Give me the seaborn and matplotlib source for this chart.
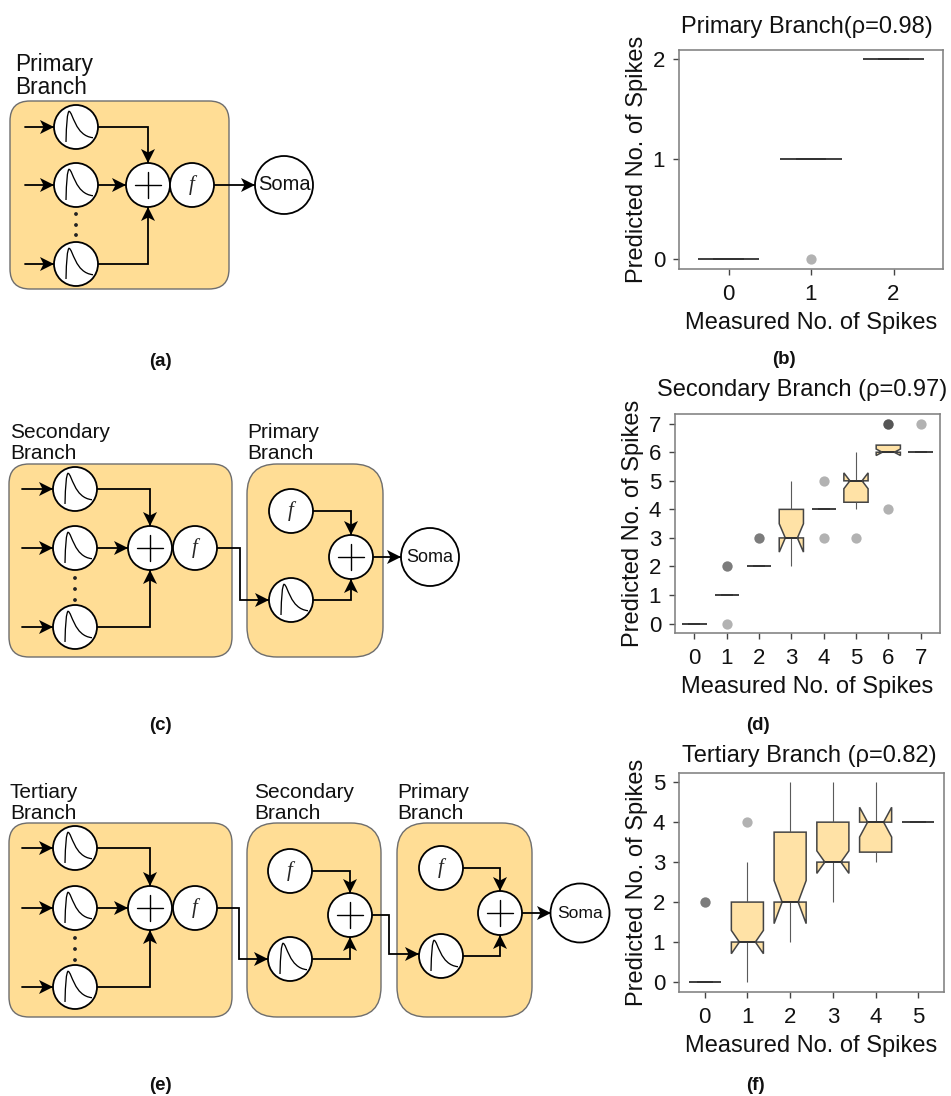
"""
Dendritic branch diagrams (left) with notched boxplots of predicted vs measured
spike counts (right).
"""

import matplotlib
matplotlib.use('Agg')

import matplotlib.pyplot as plt
import numpy as np
import pandas as pd
import seaborn as sns
from matplotlib.patches import Circle, FancyBboxPatch, PathPatch, Polygon
from matplotlib.path import Path

# rows: measured no. of spikes, columns: how many trials predicted 0, 1, 2, ...
PRIMARY_COUNTS = [
    [8, 0, 0],
    [1, 20, 0],
    [0, 0, 8],
]
SECONDARY_COUNTS = [
    [8, 0, 0, 0, 0, 0, 0, 0],
    [1, 30, 2, 0, 0, 0, 0, 0],
    [0, 0, 30, 2, 0, 0, 0, 0],
    [0, 0, 1, 5, 3, 1, 0, 0],
    [0, 0, 0, 1, 20, 1, 0, 0],
    [0, 0, 0, 1, 4, 12, 1, 0],
    [0, 0, 0, 0, 1, 0, 8, 3],
    [0, 0, 0, 0, 0, 0, 8, 1],
]
TERTIARY_COUNTS = [
    [30, 0, 2, 0, 0, 0],
    [1, 15, 11, 1, 1, 0],
    [0, 2, 12, 5, 5, 2],
    [0, 0, 1, 15, 14, 1],
    [0, 0, 0, 3, 6, 1],
    [0, 0, 0, 0, 8, 0],
]

PRIMARY_TITLE = 'Primary Branch(ρ=0.98)'
SECONDARY_TITLE = 'Secondary Branch (ρ=0.97)'
TERTIARY_TITLE = 'Tertiary Branch (ρ=0.82)'

BOX_FILL = '#FFE2A6'
PANEL_FILL = '#FFDD95'
W, H = 951, 1096
PX = 0.72  # one pixel in points at dpi 100

sns.set_style('ticks')
plt.rcParams['font.family'] = ['Liberation Sans', 'DejaVu Sans']


def counts_to_frame(counts):
    rows = []
    for measured, row in enumerate(counts):
        predicted = np.repeat(np.arange(len(row)), row)
        rows.append(pd.DataFrame({'measured': measured, 'predicted': predicted}))
    return pd.concat(rows, ignore_index=True)


def draw_boxes(fig, counts, rect, ylim, title, title_x, title_pad, ypos, ylabel_x):
    left, top, right, bottom = rect
    ax = fig.add_axes([left / W, 1 - bottom / H, (right - left) / W, (bottom - top) / H])
    df = counts_to_frame(counts)
    order = list(range(len(counts)))
    sns.boxplot(data=df, x='measured', y='predicted', order=order, notch=True,
                showcaps=False, width=0.75, color=BOX_FILL, saturation=1,
                linecolor='#5a5a5a', linewidth=0.8,
                boxprops={'linewidth': 1.1, 'edgecolor': '#444444'},
                medianprops={'color': '#333333', 'linewidth': 1.4},
                flierprops={'marker': 'o', 'markerfacecolor': 'black',
                            'markeredgecolor': 'none', 'alpha': 0.3, 'markersize': 7.4},
                ax=ax)
    ax.set_xlim(-0.6, len(counts) - 0.4)
    ax.set_ylim(*ylim)
    ax.set_yticks(ypos)
    for side in ax.spines:
        ax.spines[side].set_visible(True)
        ax.spines[side].set_color('#808080')
        ax.spines[side].set_linewidth(1.15)
    ax.tick_params(axis='both', labelsize=16, length=4, width=1, color='#444444',
                   labelcolor='#111111')
    ax.tick_params(axis='x', pad=7)
    ax.tick_params(axis='y', pad=6)
    ax.set_xlabel('Measured No. of Spikes', fontsize=17, labelpad=5, color='#111111')
    ax.set_ylabel('Predicted No. of Spikes', fontsize=17, color='#111111')
    ax.yaxis.set_label_coords((ylabel_x + 15 - left) / (right - left), 0.5)
    ax.set_title(title, fontsize=17, x=title_x, pad=title_pad, color='#111111')
    return ax


def arrow(ax, pts):
    """Polyline in pixel coordinates that ends in a filled notched head."""
    xs, ys = zip(*pts)
    (x0, y0), (x1, y1) = pts[-2], pts[-1]
    d = np.array([x1 - x0, y1 - y0], dtype=float)
    d /= np.hypot(*d)
    n = np.array([-d[1], d[0]])
    tip = np.array([x1, y1])
    ax.plot(xs, ys, color='black', lw=1.8 * PX, solid_joinstyle='miter', zorder=2)
    head = [tip, tip - 14 * d + 7 * n, tip - 10.5 * d, tip - 14 * d - 7 * n]
    ax.add_patch(Polygon(head, closed=True, fc='black', ec='none', zorder=4))


def circle(ax, x, y, r=22):
    ax.add_patch(Circle((x, y), r, fc='white', ec='black', lw=1.8 * PX, zorder=3))


def synapse(ax, x, y):
    circle(ax, x, y)
    verts = [(-10, 15), (-9.5, -14), (-7, -15.7), (-3, -15), (-1, 9), (17, 10.7)]
    codes = [Path.MOVETO, Path.CURVE3, Path.CURVE3, Path.CURVE4, Path.CURVE4, Path.CURVE4]
    path = Path([(x + a, y + b) for a, b in verts], codes)
    ax.add_patch(PathPatch(path, fc='none', ec='black', lw=1.3 * PX, zorder=5))


def adder(ax, x, y):
    circle(ax, x, y)
    ax.plot([x - 13, x + 13], [y, y], color='black', lw=1.4 * PX, zorder=5)
    ax.plot([x, x], [y - 13, y + 13], color='black', lw=1.4 * PX, zorder=5)


def nonlin(ax, x, y):
    circle(ax, x, y)
    ax.text(x, y, 'f', family='Liberation Serif', style='italic', fontsize=15,
            ha='center', va='center', zorder=5)


def soma(ax, x, y, r, size):
    ax.add_patch(Circle((x, y), r, fc='white', ec='black', lw=1.8 * PX, zorder=3))
    ax.text(x, y, 'Soma', fontsize=size, ha='center', va='center', zorder=5, color='#111111')


def panel(ax, x0, y0, x1, y1, rad):
    ax.add_patch(FancyBboxPatch((x0 + rad, y0 + rad), x1 - x0 - 2 * rad, y1 - y0 - 2 * rad,
                                boxstyle='round,pad={},rounding_size={}'.format(rad, rad),
                                fc=PANEL_FILL, ec='#6e6e6e', lw=1.4 * PX, zorder=1))


def label(ax, x, y, text, size=15):
    for i, line in enumerate(text.split('\n')):
        ax.text(x, y + i * size * 1.42, line, fontsize=size, ha='left', va='center',
                color='#111111', zorder=5)


def input_block(ax, sy, add_x, f_x, syn_x, in_x, dots):
    """The three-input sum block shared by all the left-most branches."""
    for y in sy:
        arrow(ax, [(in_x, y), (syn_x - 22, y)])
        synapse(ax, syn_x, y)
    adder(ax, add_x, sy[1])
    nonlin(ax, f_x, sy[1])
    arrow(ax, [(syn_x + 22, sy[0]), (add_x, sy[0]), (add_x, sy[1] - 22)])
    arrow(ax, [(syn_x + 22, sy[1]), (add_x - 22, sy[1])])
    arrow(ax, [(syn_x + 22, sy[2]), (add_x, sy[2]), (add_x, sy[1] + 22)])
    for y in dots:
        ax.add_patch(Circle((syn_x, y), 1.9, fc='#222222', ec='none', zorder=4))


def relay_block(ax, f_xy, add_xy, syn_xy):
    nonlin(ax, *f_xy)
    adder(ax, *add_xy)
    synapse(ax, *syn_xy)
    arrow(ax, [(f_xy[0] + 22, f_xy[1]), (add_xy[0], f_xy[1]), (add_xy[0], add_xy[1] - 22)])
    arrow(ax, [(syn_xy[0] + 22, syn_xy[1]), (add_xy[0], syn_xy[1]), (add_xy[0], add_xy[1] + 22)])


def draw_diagrams(ax):
    # (a)
    panel(ax, 10, 101, 229, 289, 20)
    input_block(ax, [127, 185, 264], 148, 192, 76, 25, [214, 225, 235])
    arrow(ax, [(214, 185), (255, 185)])
    soma(ax, 284, 185, 29, 14.5)
    label(ax, 15, 64.5, 'Primary\nBranch', size=16.3)

    # (c)
    panel(ax, 9, 464, 232, 657, 20)
    panel(ax, 247, 464, 383, 657, 30)
    input_block(ax, [489, 548, 627], 150, 195, 75, 22, [578, 589, 600])
    relay_block(ax, (291, 511), (351, 557), (291, 600))
    arrow(ax, [(217, 548), (240, 548), (240, 600), (269, 600)])
    arrow(ax, [(373, 557), (401, 557)])
    soma(ax, 430, 557, 29, 13)
    label(ax, 10, 432, 'Secondary\nBranch')
    label(ax, 247, 432, 'Primary\nBranch')

    # (e)
    panel(ax, 9, 823, 232, 1017, 20)
    panel(ax, 247, 823, 381, 1017, 30)
    panel(ax, 397, 823, 532, 1017, 30)
    input_block(ax, [848, 908, 987], 150, 195, 75, 22, [938, 949, 960])
    relay_block(ax, (290, 871), (350, 915), (290, 959))
    relay_block(ax, (441, 868), (500, 913), (441, 956))
    arrow(ax, [(217, 908), (239, 908), (239, 959), (268, 959)])
    arrow(ax, [(372, 915), (389, 915), (389, 954), (419, 954)])
    arrow(ax, [(522, 913), (551, 913)])
    soma(ax, 580, 913, 29.5, 12.6)
    label(ax, 10, 792, 'Tertiary\nBranch')
    label(ax, 254, 792, 'Secondary\nBranch')
    label(ax, 397, 792, 'Primary\nBranch')

    for x, y, s in [(160, 361, '(a)'), (784, 360, '(b)'), (160, 725, '(c)'),
                    (758, 725, '(d)'), (160, 1085, '(e)'), (755, 1086, '(f)')]:
        ax.text(x, y, s, fontsize=13.5, fontweight='bold', ha='center', va='center',
                color='#111111')


fig = plt.figure(figsize=(W / 100, H / 100), dpi=100)

canvas = fig.add_axes([0, 0, 1, 1])
canvas.set_xlim(0, W)
canvas.set_ylim(H, 0)
canvas.axis('off')
draw_diagrams(canvas)

draw_boxes(fig, PRIMARY_COUNTS, (679, 50, 943, 269), (-0.097, 2.093),
           PRIMARY_TITLE, 0.485, 12, [0, 1, 2], 633)
draw_boxes(fig, SECONDARY_COUNTS, (675, 414, 940, 633), (-0.33, 7.34),
           SECONDARY_TITLE, 0.48, 13, list(range(8)), 629)
draw_boxes(fig, TERTIARY_COUNTS, (679, 773, 944, 992), (-0.25, 5.23),
           TERTIARY_TITLE, 0.49, 8, list(range(6)), 633)

fig.savefig('out.png', dpi=100)
plt.close(fig)
